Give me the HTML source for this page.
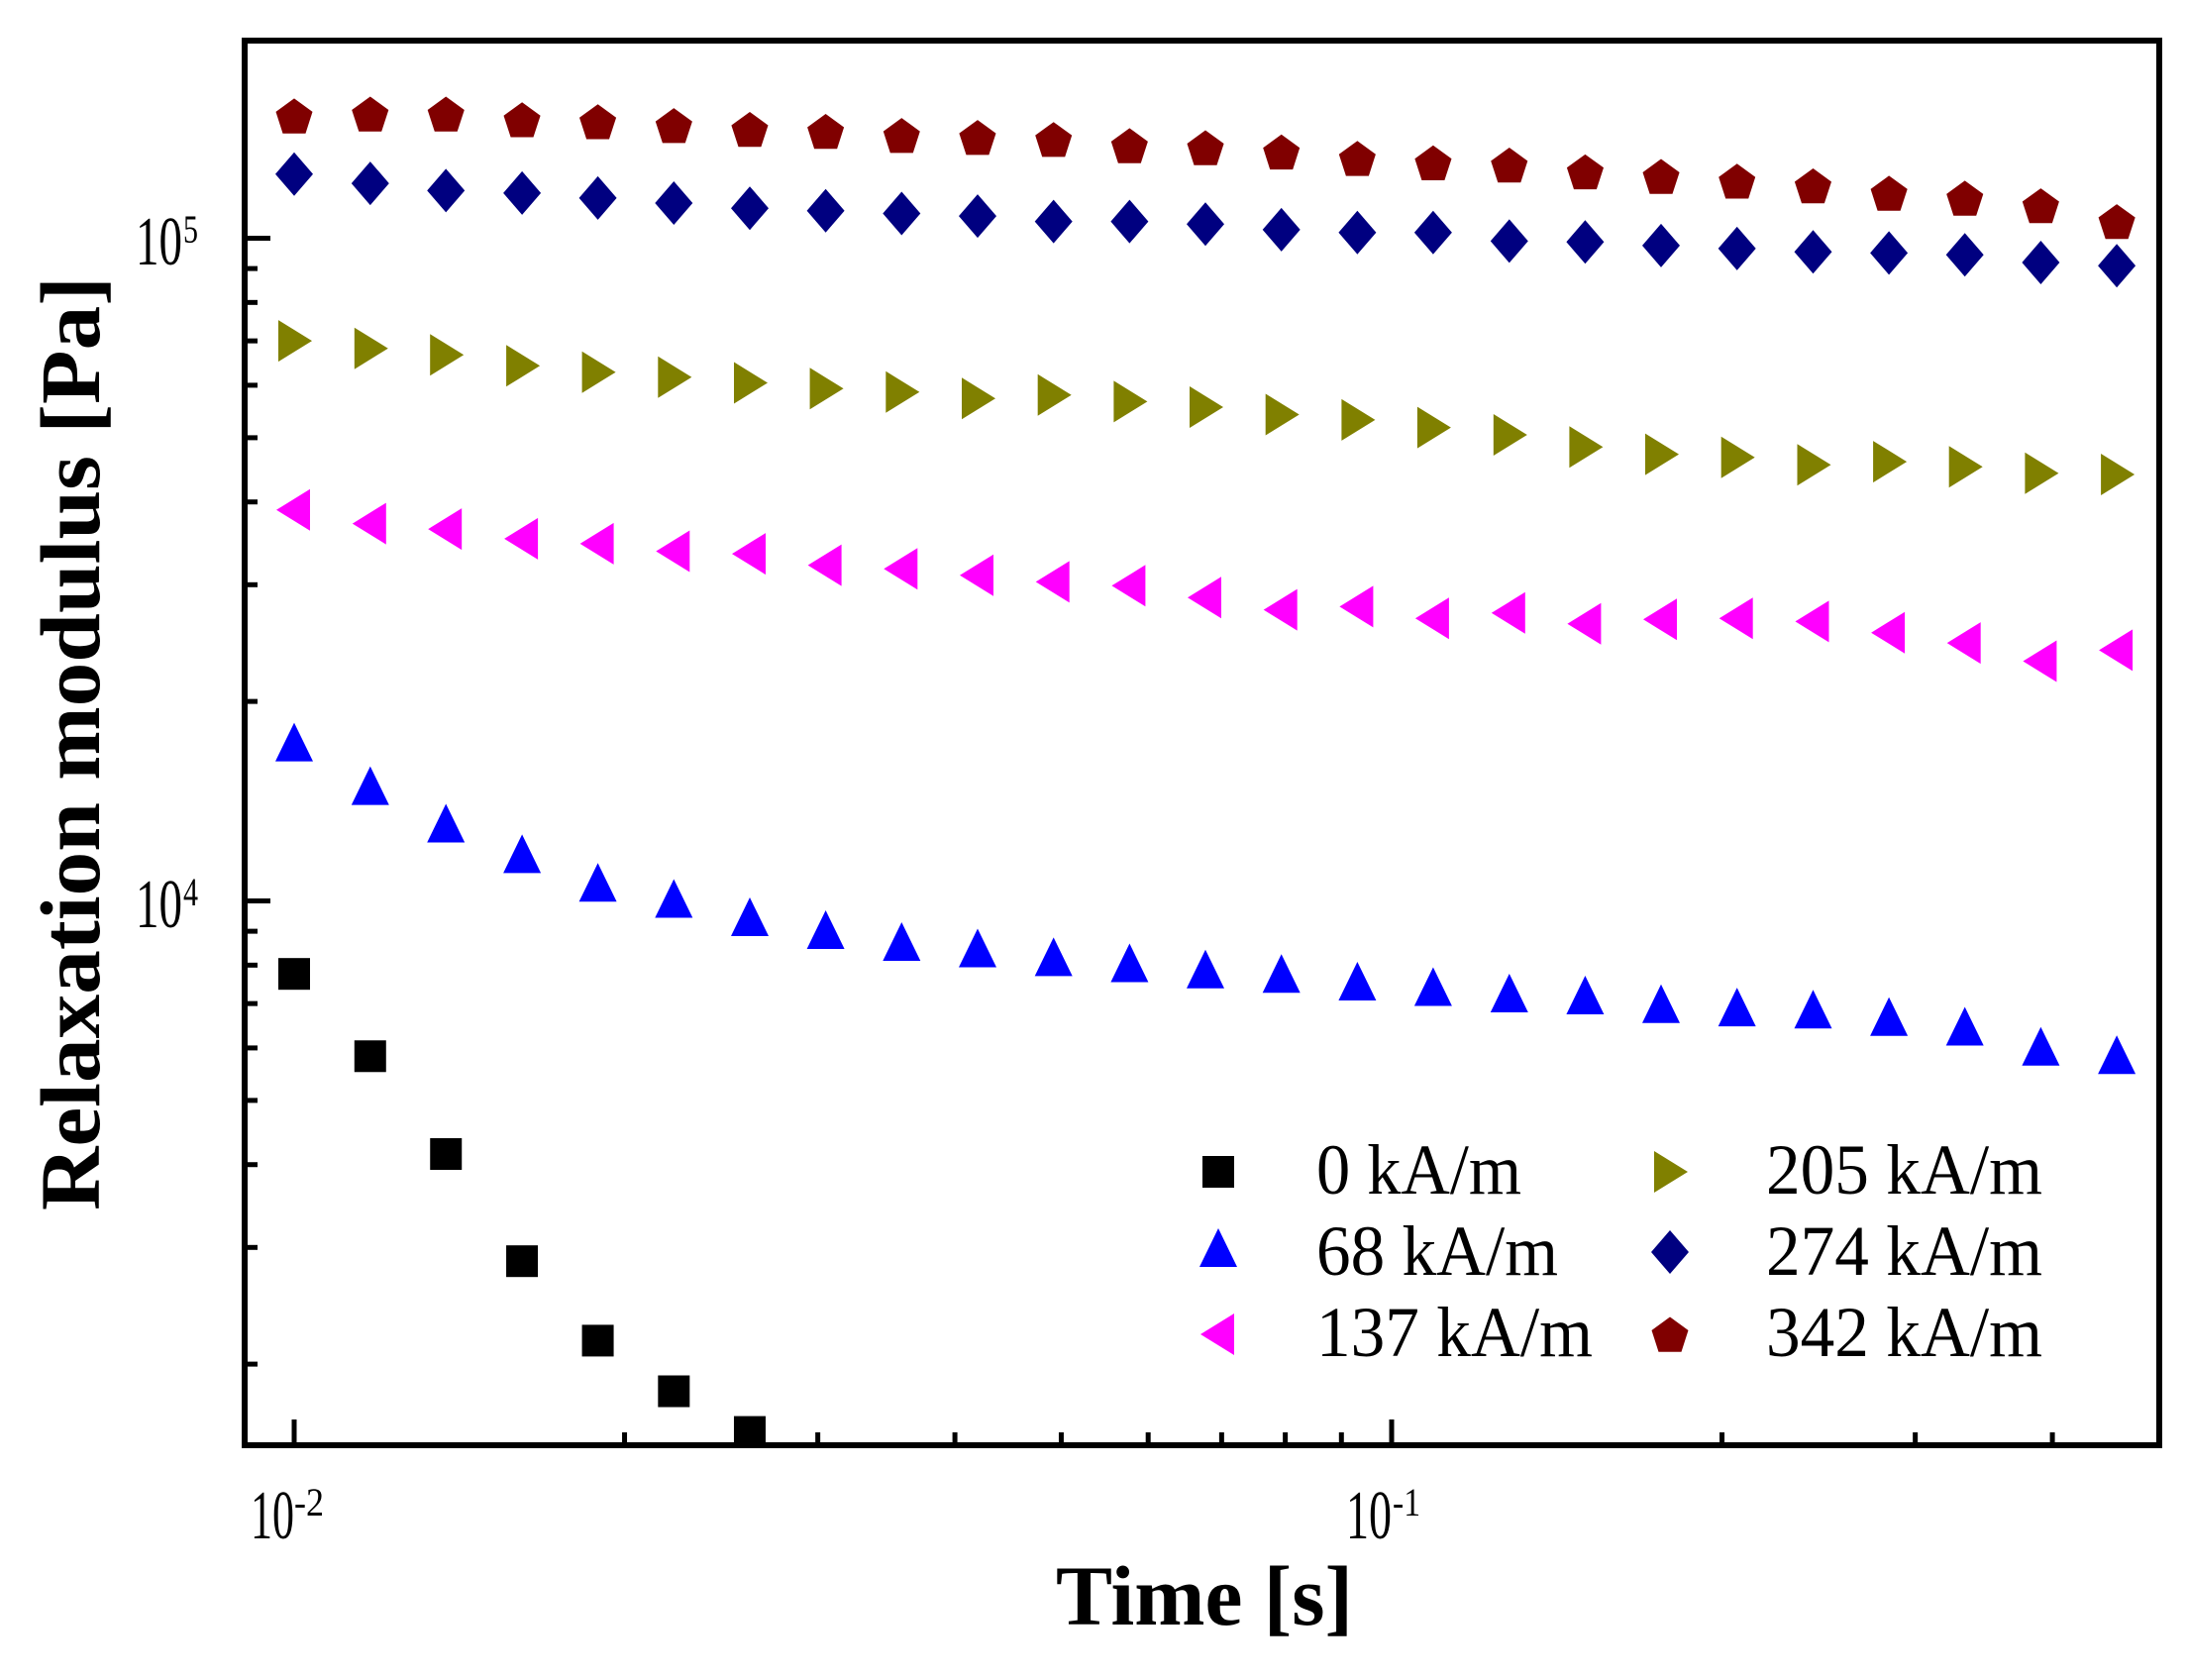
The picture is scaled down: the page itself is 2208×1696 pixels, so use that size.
<!DOCTYPE html>
<html><head><meta charset="utf-8"><style>
html,body{margin:0;padding:0;background:#fff;}
svg{display:block;font-family:"Liberation Serif","Times New Roman",serif;}
</style></head><body>
<svg id="chart" width="2208" height="1696" viewBox="0 0 2208 1696" xmlns="http://www.w3.org/2000/svg">
<defs><clipPath id="plotclip"><rect x="247" y="41" width="1933" height="1418"/></clipPath></defs>
<rect x="0" y="0" width="2208" height="1696" fill="#fff"/>
<g id="marks" clip-path="url(#plotclip)"></g>
<g id="ticks"></g>
<rect x="247" y="41" width="1933" height="1418" fill="none" stroke="#000" stroke-width="6"/>
<g font-size="70">
 <text x="137" y="267" textLength="47" lengthAdjust="spacingAndGlyphs">10</text>
 <text x="185" y="245" font-size="40" textLength="15" lengthAdjust="spacingAndGlyphs">5</text>
 <text x="137" y="936" textLength="47" lengthAdjust="spacingAndGlyphs">10</text>
 <text x="185" y="914" font-size="40" textLength="15" lengthAdjust="spacingAndGlyphs">4</text>
</g>
<g font-size="70">
 <text x="253" y="1553" textLength="44" lengthAdjust="spacingAndGlyphs">10</text>
 <text x="297" y="1530" font-size="40" textLength="30" lengthAdjust="spacingAndGlyphs">-2</text>
 <text x="1359" y="1553" textLength="46" lengthAdjust="spacingAndGlyphs">10</text>
 <text x="1406" y="1530" font-size="40" textLength="28" lengthAdjust="spacingAndGlyphs">-1</text>
</g>
<text x="1066" y="1640" font-size="86" font-weight="bold" textLength="300" lengthAdjust="spacingAndGlyphs">Time [s]</text>
<text transform="translate(100,1222) rotate(-90)" x="0" y="0" font-size="86" font-weight="bold" textLength="943" lengthAdjust="spacingAndGlyphs">Relaxation modulus [Pa]</text>
<g id="legend"></g>
</svg>
<script>
const times = [0.01,0.01173,0.01375,0.01613,0.01891,0.02218,0.02601,0.0305,0.03577,0.04195,0.0492,0.0577,0.06766,0.07935,0.09306,0.1091,0.128,0.1501,0.176,0.2064,0.2421,0.2839,0.3329,0.3904,0.4579];
const g0 = [7760,5830,4150,2860,2170,1820,1580];
const g68 = [17100,14700,12900,11600,10500,9930,9320,8910,8550,8360,8110,7940,7770,7650,7450,7310,7150,7100,6890,6810,6760,6590,6370,5940,5770];
const g137 = [38900,37100,36400,35200,34600,33700,33400,32100,31700,31000,30300,29900,28700,27500,27800,26700,27200,26200,26600,26700,26400,25400,24500,23000,23900];
const g205 = [70000,68200,66700,64200,62800,61700,60500,59300,58600,57300,58000,56700,55600,54200,53200,51800,50500,48400,47200,46700,45500,46000,45200,44200,44000];
const g274 = [125000,121000,118000,117000,115000,113000,111000,110000,109000,108000,106000,106000,105000,103000,102000,102000,99000,98700,97500,96500,95400,95000,94400,91900,90900];
const g342 = [153000,154000,154000,151000,150000,148000,146000,145000,143000,142000,141000,138000,137000,135000,132000,130000,129000,126000,124000,122000,120000,117000,115000,112000,106000];
const seriesNames = ["0 kA/m","68 kA/m","137 kA/m","205 kA/m","274 kA/m","342 kA/m"];

const NS = "http://www.w3.org/2000/svg";
function xs(t){ return 297 + (Math.log10(t) + 2) * 1108; }
function ys(v){ return 909.5 - (Math.log10(v) - 4) * 669; }

function shape(kind, cx, cy, color){
  let el;
  if (kind === "square"){
    el = document.createElementNS(NS, "rect");
    el.setAttribute("x", cx-16); el.setAttribute("y", cy-16);
    el.setAttribute("width", 32); el.setAttribute("height", 32);
  } else {
    let pts;
    if (kind === "up") pts = [[0,-24],[19,15],[-19,15]];
    else if (kind === "left") pts = [[-18,0],[16,-21],[16,21]];
    else if (kind === "right") pts = [[18,0],[-16,-21],[-16,21]];
    else if (kind === "diamond") pts = [[0,-22],[19,0],[0,22],[-19,0]];
    else { pts = []; for (let k=0;k<5;k++){ const a=-Math.PI/2+k*2*Math.PI/5; pts.push([19.5*Math.cos(a),19.5*Math.sin(a)+2]); } }
    el = document.createElementNS(NS, "polygon");
    el.setAttribute("points", pts.map(p => (cx+p[0]).toFixed(1)+","+(cy+p[1]).toFixed(1)).join(" "));
  }
  el.setAttribute("fill", color);
  return el;
}

const marks = document.getElementById("marks");
function drawSeries(vals, kind, color, name){
  const g = document.createElementNS(NS, "g");
  
  
  vals.forEach((v, i) => {
    const el = shape(kind, xs(times[i]), ys(v), color);
    
    
    g.appendChild(el);
  });
  marks.appendChild(g);
}
drawSeries(g342, "pentagon", "#800000", "342");
drawSeries(g274, "diamond", "#000080", "274");
drawSeries(g205, "right", "#808000", "205");
drawSeries(g137, "left", "#ff00ff", "137");
drawSeries(g68, "up", "#0000ff", "68");
drawSeries(g0, "square", "#000000", "0");

const ticks = document.getElementById("ticks");
function line(x1,y1,x2,y2,name){
  const l = document.createElementNS(NS, "line");
  l.setAttribute("x1",x1); l.setAttribute("y1",y1); l.setAttribute("x2",x2); l.setAttribute("y2",y2);
  l.setAttribute("stroke","#000"); l.setAttribute("stroke-width","5");
  
  
  ticks.appendChild(l);
}
[0.01,0.02,0.03,0.04,0.05,0.06,0.07,0.08,0.09,0.1,0.2,0.3,0.4,0.5].forEach(t => {
  const major = (t === 0.01 || t === 0.1);
  const x = xs(t);
  if (x < 247 || x > 2180) return;
  line(x, 1459, x, 1459 - (major ? 26 : 13), 'x-tick');
});
[2000,3000,4000,5000,6000,7000,8000,9000,10000,20000,30000,40000,50000,60000,70000,80000,90000,100000].forEach(v => {
  const major = (v === 10000 || v === 100000);
  const y = ys(v);
  if (y < 41 || y > 1459) return;
  line(247, y, 247 + (major ? 26 : 13), y, 'y-tick');
});

const legend = document.getElementById("legend");
const legendKinds = ["square","up","left","right","diamond","pentagon"];
const legendColors = ["#000000","#0000ff","#ff00ff","#808000","#000080","#800000"];
const legendWidths = [207,244,279,279,279,279];
seriesNames.forEach((nm, i) => {
  const col = Math.floor(i/3), row = i%3;
  const mx = col ? 1686 : 1230, my = [1183,1264,1347][row];
  const g = document.createElementNS(NS, "g");
  
  
  const m = shape(legendKinds[i], mx, my, legendColors[i]);
  
  
  g.appendChild(m);
  const t = document.createElementNS(NS, "text");
  t.setAttribute("x", col ? 1783 : 1329);
  t.setAttribute("y", [1205,1287,1369][row]);
  t.setAttribute("font-size", "72");
  t.setAttribute("textLength", legendWidths[i]);
  t.setAttribute("lengthAdjust", "spacingAndGlyphs");
  t.textContent = nm;
  
  
  g.appendChild(t);
  legend.appendChild(g);
});
</script>
</body></html>
